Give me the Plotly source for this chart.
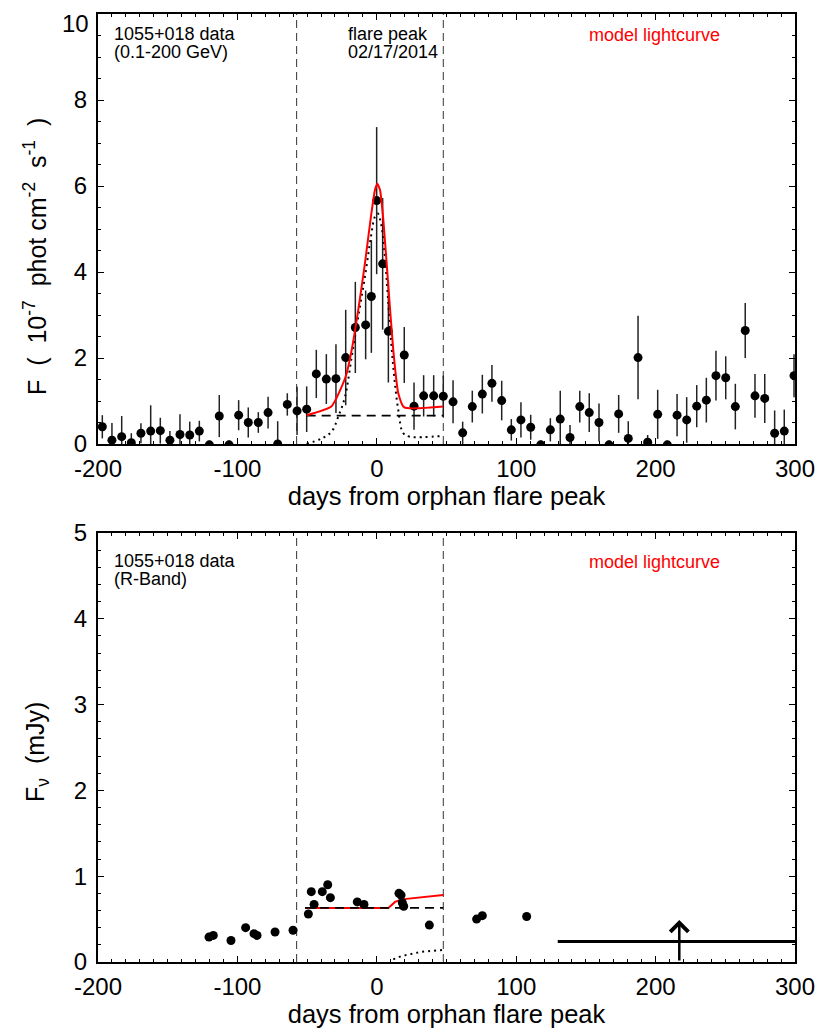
import plotly.graph_objects as go

# ---------------- data: gamma-ray (top panel) ----------------
gam_x = [-196.9, -190.0, -183.0, -176.1, -169.2, -162.2, -155.3, -148.4, -141.2, -134.2,
         -127.3, -120.1, -113.0, -106.0, -99.1, -92.2, -85.0, -78.0, -71.1, -64.2,
         -57.2, -50.3, -43.4, -36.2, -29.3, -22.3, -15.4, -8.0, -3.9, -0.1,
         4.2, 8.3, 19.7, 26.7, 33.6, 40.8, 47.7,
         54.7, 61.6, 68.5, 75.7, 82.6, 89.6, 96.5, 103.4, 110.4, 117.6,
         124.5, 131.6, 138.6, 145.6, 152.4, 159.4, 166.6, 173.5, 180.4, 187.4,
         194.3, 201.5, 208.4, 215.4, 222.3, 229.5, 236.4, 243.3, 250.3, 257.2,
         264.3, 271.3, 278.3, 285.4, 292.3, 299.3]
gam_y = [0.40, 0.09, 0.17, 0.03, 0.25, 0.30, 0.31, 0.09, 0.22, 0.21,
         0.30, -0.02, 0.65, -0.02, 0.67, 0.50, 0.50, 0.73, 0.00, 0.92,
         0.77, 0.81, 1.63, 1.51, 1.52, 2.01, 2.71, 2.77, 3.43, 5.66,
         4.19, 2.62, 2.07, 0.88, 1.12, 1.12, 1.11,
         0.98, 0.26, 0.87, 1.16, 1.41, 1.01, 0.33, 0.56, 0.39, -0.02,
         0.33, 0.58, 0.15, 0.87, 0.73, 0.50, -0.02, 0.70, 0.13, 2.01,
         0.04, 0.69, -0.02, 0.67, 0.56, 0.88, 1.02, 1.59, 1.54, 0.87,
         2.64, 1.12, 1.06, 0.25, 0.30, 1.59]
gam_err = [0.27, 0.40, 0.48, 0.22, 0.23, 0.60, 0.30, 0.21, 0.47, 0.31,
           0.24, 0.10, 0.49, 0.10, 0.35, 0.35, 0.24, 0.37, 0.53, 0.26,
           0.56, 0.53, 0.56, 0.58, 0.80, 1.11, 1.06, 0.80, 1.31, 1.71,
           1.53, 1.19, 0.65, 0.55, 0.48, 0.48, 0.48,
           0.50, 0.26, 0.37, 0.45, 0.43, 0.46, 0.25, 0.41, 0.29, 0.10,
           0.27, 0.66, 0.29, 0.37, 0.45, 0.44, 0.10, 0.44, 0.40, 0.97,
           0.17, 0.57, 0.10, 0.49, 0.53, 0.49, 0.52, 0.58, 0.50, 0.53,
           0.64, 0.51, 0.57, 0.53, 0.50, 0.50]

# model lightcurve (gamma)
gmod_x = [-50.3, -32.4, -22.3, -18.0, -13.3, -8.5, -4.2, -1.3, 0.4, 2.3, 4.7,
          8.3, 11.8, 15.4, 19.7, 47.7]
gmod_y = [0.67, 0.88, 1.57, 2.19, 3.12, 4.20, 5.29, 5.91, 6.05, 5.91, 5.21,
          3.66, 2.19, 1.18, 0.85, 0.87]
gbase_x = [-50.3, 47.7]
gbase_y = [0.66, 0.66]
gflare_x = [-50.3, -39.5, -32.4, -27.6, -22.8, -18.0, -13.3, -8.5, -4.2, -1.3, 0.7,
            3.0, 5.4, 8.3, 11.8, 15.4, 19.0, 23.8, 47.7]
gflare_y = [0.00, 0.13, 0.29, 0.64, 1.10, 2.03, 2.96, 3.89, 4.82, 5.29, 5.36,
            5.13, 4.51, 3.27, 1.80, 0.79, 0.25, 0.17, 0.19]

# ---------------- data: optical R-band (bottom panel) ----------------
opt_x = [-120.4, -117.3, -104.6, -94.1, -88.1, -85.9, -73.0, -60.1,
         -49.1, -47.0, -45.0, -39.1, -35.2, -33.3, -14.0, -9.2,
         15.9, 17.4, 18.3, 19.3, 37.7, 71.6, 75.7, 107.5]
opt_y = [0.29, 0.31, 0.25, 0.40, 0.33, 0.31, 0.35, 0.37,
         0.56, 0.82, 0.67, 0.82, 0.90, 0.75, 0.70, 0.67,
         0.80, 0.78, 0.69, 0.65, 0.43, 0.50, 0.54, 0.53]
omod_x = [-51.5, 8.3, 13.1, 17.9, 47.7]
omod_y = [0.63, 0.63, 0.70, 0.73, 0.78]
obase_x = [-51.5, 47.7]
obase_y = [0.63, 0.63]
oflare_x = [11.8, 17.9, 32.2, 47.7]
oflare_y = [0.03, 0.07, 0.12, 0.14]
# upper limit (horizontal bar) and lower-limit arrow
ul_x = [129.8, 300.0]
ul_y = [0.24, 0.24]
arrow_x = 217.0
arrow_y = [0.0, 0.49]

# flare window (vertical dashed lines)
window_x = [-57.5, 47.7]

# axes / ticks
x_ticks = [-200, -100, 0, 100, 200, 300]
x_ticktext = ["-200", "-100", "0", "100", "200", "300"]
y1_ticks = [0, 2, 4, 6, 8, 10]
y1_ticktext = ["0", "2", "4", "6", "8", ""]   # top label "10" placed below (div edge)
y1_top_label = "10"
y2_ticks = [0, 1, 2, 3, 4, 5]

FONT = "Liberation Sans, Arial, Helvetica, sans-serif"
BLACK = "#000000"

fig = go.Figure()

# ---- top panel traces ----
fig.add_trace(go.Scatter(
    x=gam_x, y=gam_y, mode="markers", xaxis="x", yaxis="y",
    marker=dict(size=9, color=BLACK),
    error_y=dict(type="data", array=gam_err, visible=True, color="#222222",
                 thickness=1.5, width=0),
    showlegend=False))
fig.add_trace(go.Scatter(x=gbase_x, y=gbase_y, mode="lines", xaxis="x", yaxis="y",
                         line=dict(color=BLACK, width=1.8, dash="9px,6px"), showlegend=False))
fig.add_trace(go.Scatter(x=gflare_x, y=gflare_y, mode="lines", xaxis="x", yaxis="y",
                         line=dict(color=BLACK, width=2, dash="2px,4px", shape="spline"),
                         showlegend=False))
fig.add_trace(go.Scatter(x=gmod_x, y=gmod_y, mode="lines", xaxis="x", yaxis="y",
                         line=dict(color="#ff0000", width=2, shape="spline", smoothing=0.5),
                         showlegend=False))

# ---- bottom panel traces ----
fig.add_trace(go.Scatter(x=omod_x, y=omod_y, mode="lines", xaxis="x2", yaxis="y2",
                         line=dict(color="#ff0000", width=2), showlegend=False))
fig.add_trace(go.Scatter(x=obase_x, y=obase_y, mode="lines", xaxis="x2", yaxis="y2",
                         line=dict(color=BLACK, width=1.8, dash="9px,6px"), showlegend=False))
fig.add_trace(go.Scatter(x=oflare_x, y=oflare_y, mode="lines", xaxis="x2", yaxis="y2",
                         line=dict(color=BLACK, width=2, dash="2px,4px"), showlegend=False))
fig.add_trace(go.Scatter(x=opt_x, y=opt_y, mode="markers", xaxis="x2", yaxis="y2",
                         marker=dict(size=9, color=BLACK), showlegend=False))
fig.add_trace(go.Scatter(x=ul_x, y=ul_y, mode="lines", xaxis="x2", yaxis="y2",
                         line=dict(color=BLACK, width=3), showlegend=False))

# vertical window lines
for xr, yr in (("x", "y"), ("x2", "y2")):
    for wx in window_x:
        fig.add_shape(type="line", xref=xr, yref=yr + " domain", x0=wx, x1=wx, y0=0, y1=1,
                      line=dict(color="#333333", width=1, dash="8px,5px"), layer="below")

# arrow for optical lower limit
fig.add_annotation(x=arrow_x, y=arrow_y[1], ax=arrow_x, ay=arrow_y[0],
                   xref="x2", yref="y2", axref="x2", ayref="y2", text="",
                   showarrow=True, arrowhead=4, arrowsize=1.4, arrowwidth=2.5, arrowcolor=BLACK,
                   standoff=0, startstandoff=0)

# page geometry (the page body adds an 8 px offset)
OFF = 8
W, H = 830 - OFF, 1031 - OFF
ML, MR, MT, MB = 98 - OFF, 35, 14 - OFF, 69
PW, PH = W - ML - MR, H - MT - MB

def px2paper(px, py):
    return (px - OFF - ML) / PW, (H - MB - (py - OFF)) / PH

def label(text, px, py, color=BLACK):
    xx, yy = px2paper(px, py)
    fig.add_annotation(text=text, x=xx, y=yy, xref="paper", yref="paper",
                       xanchor="left", yanchor="middle", showarrow=False,
                       font=dict(family=FONT, size=18, color=color))

for txt, px, py, col in [
    ("1055+018 data", 112, 34, BLACK),
    ("(0.1-200 GeV)", 112, 52, BLACK),
    ("flare peak", 346, 34, BLACK),
    ("02/17/2014", 346, 52, BLACK),
    ("model lightcurve", 587, 35, "#ff0000"),
    ("1055+018 data", 112, 561, BLACK),
    ("(R-Band)", 112, 579, BLACK),
    ("model lightcurve", 587, 562, "#ff0000"),
]:
    label(txt, px, py, col)

# top y tick label "10" (kept inside the page)
lx, _ = px2paper(91, 0)
fig.add_annotation(text=y1_top_label, x=lx, y=y1_ticks[-1], xref="paper", yref="y",
                   xanchor="right", yanchor="middle", yshift=-9, showarrow=False,
                   font=dict(family=FONT, size=24, color=BLACK))

# y-axis titles as rotated annotations
NB = "\u00a0"
t1x, t1y = px2paper(35, 257)
fig.add_annotation(text="F" + NB * 2 + "(" + NB * 2 + "10<sup>-7</sup>" + NB * 2 + "phot" + NB + "cm<sup>-2</sup>"
                        + NB * 2 + "s<sup>-1</sup>" + NB * 2 + ")",
                   x=t1x, y=t1y, xref="paper", yref="paper", textangle=-90,
                   xanchor="center", yanchor="middle", showarrow=False,
                   font=dict(family=FONT, size=25, color=BLACK))
t2x, t2y = px2paper(37, 752)
fig.add_annotation(text="F<sub>\u03bd</sub>" + NB * 2 + "(mJy)",
                   x=t2x, y=t2y, xref="paper", yref="paper", textangle=-90,
                   xanchor="center", yanchor="middle", showarrow=False,
                   font=dict(family=FONT, size=25, color=BLACK))

xaxis_common = dict(range=[-200, 300], tickvals=x_ticks, ticktext=x_ticktext,
                    ticks="inside", ticklen=6, tickwidth=1.2, tickcolor=BLACK,
                    minor=dict(dtick=10, ticks="inside", ticklen=3, tickwidth=1, tickcolor=BLACK),
                    showline=True, linewidth=2, linecolor=BLACK, mirror="ticks",
                    showgrid=False, zeroline=False, automargin=False,
                    tickfont=dict(family=FONT, size=24, color=BLACK),
                    title=dict(text="days from orphan flare peak",
                               font=dict(family=FONT, size=25.5, color=BLACK), standoff=2),
                    ticklabelstandoff=2)
yaxis_common = dict(ticks="inside", ticklen=6, tickwidth=1.2, tickcolor=BLACK,
                    showline=True, linewidth=2, linecolor=BLACK, mirror="ticks",
                    showgrid=False, zeroline=False, automargin=False,
                    tickfont=dict(family=FONT, size=24, color=BLACK),
                    ticklabelstandoff=4)

top_dom = [(962 - 444) / PH, 1.0]
bot_dom = [0.0, (962 - 533) / PH]

fig.update_layout(
    width=W, height=H,
    margin=dict(l=ML, r=MR, t=MT, b=MB, autoexpand=False),
    paper_bgcolor="white", plot_bgcolor="white",
    font=dict(family=FONT, color=BLACK),
    xaxis=dict(**xaxis_common, domain=[0, 1], anchor="y"),
    yaxis=dict(**yaxis_common, range=[0, 10], tickvals=y1_ticks, ticktext=y1_ticktext,
               domain=top_dom, anchor="x",
               minor=dict(dtick=0.5, ticks="inside", ticklen=3, tickwidth=1, tickcolor=BLACK)),
    xaxis2=dict(**xaxis_common, domain=[0, 1], anchor="y2"),
    yaxis2=dict(**yaxis_common, range=[0, 5], tickvals=y2_ticks, domain=bot_dom, anchor="x2",
                minor=dict(dtick=0.2, ticks="inside", ticklen=3, tickwidth=1, tickcolor=BLACK)),
    showlegend=False,
)

fig.write_html("out.html")
